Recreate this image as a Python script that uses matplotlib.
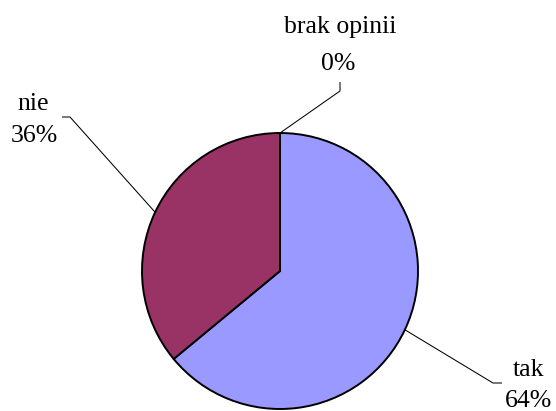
import matplotlib
matplotlib.use("Agg")
import matplotlib.pyplot as plt
import numpy as np

# Survey answers (percent)
labels = ["tak", "nie", "brak opinii"]
values = [64, 36, 0]
colors = ["#9999FF", "#993366", "#FFFFCC"]

W, H = 556, 411
fig = plt.figure(figsize=(W / 100, H / 100), dpi=100)
ax = fig.add_axes([0, 0, 1, 1])

cx, cy, r = 280, H - 271, 138

wedges, _ = ax.pie(values, colors=colors, startangle=90, counterclock=False,
                   center=(cx, cy), radius=r,
                   wedgeprops=dict(edgecolor="black", linewidth=1.4))
ax.set_xlim(0, W)
ax.set_ylim(0, H)
ax.set_aspect("equal")
ax.axis("off")

font = dict(family="Liberation Serif", fontsize=18.5, color="black")

# label layout: (name line x, baseline y), (value line x, baseline y), elbow, leader end (pixel coords, y down)
layout = {
    "tak": ((529, 376), (529, 407), (493, 383), (502, 383)),
    "nie": ((33.5, 110), (34.5, 142), (70, 117), (62, 117)),
    "brak opinii": ((340, 33), (338.5, 70), (340, 91), (340, 82)),
}

for lab, val, w in zip(labels, values, wedges):
    mid = np.deg2rad((w.theta1 + w.theta2) / 2) if val > 0 else np.deg2rad(w.theta1)
    px = cx + r * np.cos(mid)
    py = cy + r * np.sin(mid)
    (nx, ny), (vx, vy), (ex, ey), (tx, ty) = layout[lab]
    ax.plot([px, ex, tx], [py, H - ey, H - ty], color="black", linewidth=0.75,
            solid_capstyle="butt")
    ax.text(nx, H - ny, lab, ha="center", va="baseline", **font)
    ax.text(vx, H - vy, f"{val}%", ha="center", va="baseline", **font)

fig.savefig("out.png", dpi=100)
